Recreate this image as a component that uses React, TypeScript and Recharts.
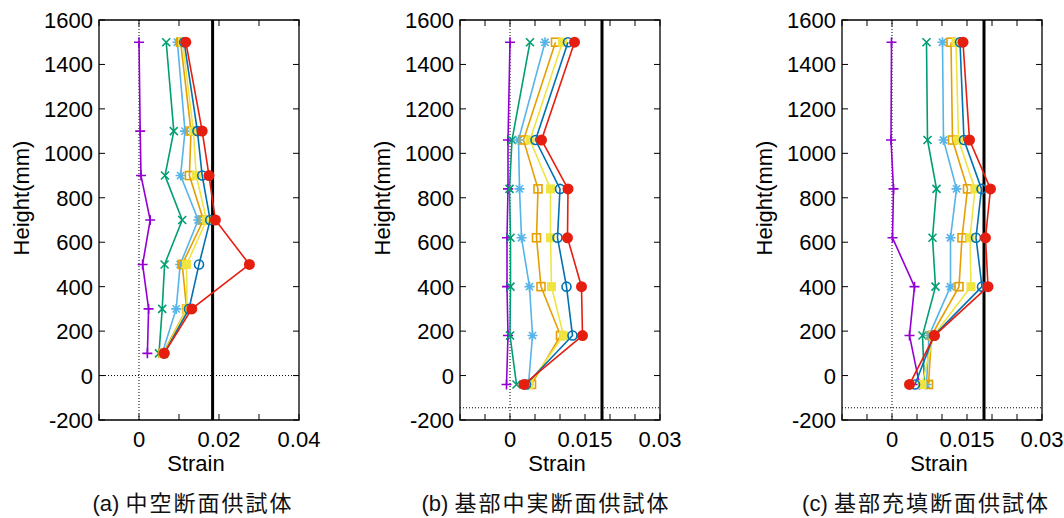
import React from 'react';
import { ScatterChart, Scatter, XAxis, YAxis, ReferenceLine, ReferenceArea, Label } from 'recharts';

// Heights (mm)
const heightsA = [1500, 1100, 900, 700, 500, 300, 100];
const heightsBC = [1500, 1060, 840, 620, 400, 180, -40];

// (a) 中空断面供試体 — strain per load step
const a1 = [0.0, 0.0003, 0.0005, 0.0028, 0.0009, 0.0024, 0.0021];
const a2 = [0.0068, 0.0087, 0.0065, 0.0108, 0.0064, 0.0058, 0.005];
const a3 = [0.0096, 0.0115, 0.0104, 0.0148, 0.0103, 0.0093, 0.0058];
const a4 = [0.0104, 0.013, 0.0126, 0.0161, 0.0108, 0.0119, 0.006];
const a5 = [0.0109, 0.0136, 0.0143, 0.0169, 0.0119, 0.012, 0.0062];
const a6 = [0.0113, 0.0146, 0.0158, 0.0178, 0.015, 0.0125, 0.0063];
const a7 = [0.0117, 0.0158, 0.0175, 0.0191, 0.0276, 0.0132, 0.0063];

// (b) 基部中実断面供試体
const b1 = [0.0, -0.0004, -0.0004, -0.0006, -0.0006, -0.0004, -0.0007];
const b2 = [0.004, 0.0004, -0.0001, 0.0001, 0.0001, 0.0, 0.0013];
const b3 = [0.007, 0.0017, 0.0019, 0.0023, 0.0039, 0.0045, 0.0037];
const b4 = [0.0091, 0.0027, 0.0056, 0.0053, 0.0062, 0.0101, 0.0043];
const b5 = [0.0105, 0.004, 0.0081, 0.0081, 0.0083, 0.0107, 0.0038];
const b6 = [0.0116, 0.0051, 0.01, 0.0095, 0.0113, 0.0125, 0.0032];
const b7 = [0.0129, 0.0063, 0.0116, 0.0115, 0.0143, 0.0145, 0.0028];

// (c) 基部充填断面供試体
const c1 = [-0.0001, -0.0002, 0.0003, 0.0001, 0.0045, 0.0035, 0.0055];
const c2 = [0.0069, 0.0071, 0.0089, 0.0081, 0.0087, 0.0061, 0.0065];
const c3 = [0.0101, 0.0103, 0.0129, 0.0117, 0.0117, 0.0074, 0.0069];
const c4 = [0.0118, 0.0121, 0.0151, 0.014, 0.0134, 0.0079, 0.0073];
const c5 = [0.0128, 0.0133, 0.0166, 0.0156, 0.0158, 0.0083, 0.006];
const c6 = [0.0136, 0.0144, 0.0179, 0.0168, 0.018, 0.0084, 0.0046];
const c7 = [0.0142, 0.0155, 0.0197, 0.0187, 0.0192, 0.0085, 0.0035];

const yTicks = [-200, 0, 200, 400, 600, 800, 1000, 1200, 1400, 1600];
const xTicksA = [-0.01, 0, 0.01, 0.02, 0.03, 0.04];
const xLabelsA = [0, 0.02, 0.04];
const xTicksBC = [-0.01, -0.005, 0, 0.005, 0.01, 0.015, 0.02, 0.025, 0.03];
const xLabelsBC = [0, 0.015, 0.03];
const yieldStrain = 0.0184;
const baseA = 0;
const baseBC = -145;
const captionTags = ['(a) ', '(b) ', '(c) '];
const captionTexts = ['中空断面供試体', '基部中実断面供試体', '基部充填断面供試体'];

const colors = ['#9400d3', '#009e73', '#56b4e9', '#e69f00', '#f0e442', '#0072b2', '#e51e10'];
const markers = ['plus', 'cross', 'star', 'square', 'fsquare', 'circle', 'fcircle'];

const FONT = "'Liberation Sans', Arial, sans-serif";
const FS = 22;
const PL = 99, PR = 299, PT = 20, PB = 420;
const W = 321, H = 518;

function Marker(props: any) {
  const { cx, cy, kind, color } = props;
  if (cx == null || cy == null) return null;
  const sw = 1.6;
  switch (kind) {
    case 'plus':
      return <path d={`M${cx - 5},${cy}H${cx + 5}M${cx},${cy - 5}V${cy + 5}`} stroke={color} strokeWidth={sw} fill="none" />;
    case 'cross':
      return <path d={`M${cx - 4},${cy - 4}L${cx + 4},${cy + 4}M${cx - 4},${cy + 4}L${cx + 4},${cy - 4}`} stroke={color} strokeWidth={sw} fill="none" />;
    case 'star':
      return <path d={`M${cx - 5},${cy}H${cx + 5}M${cx},${cy - 5}V${cy + 5}M${cx - 3.6},${cy - 3.6}L${cx + 3.6},${cy + 3.6}M${cx - 3.6},${cy + 3.6}L${cx + 3.6},${cy - 3.6}`} stroke={color} strokeWidth={sw} fill="none" />;
    case 'square':
      return <rect x={cx - 4} y={cy - 4} width={8} height={8} stroke={color} strokeWidth={sw} fill="none" />;
    case 'fsquare':
      return <rect x={cx - 4.5} y={cy - 4.5} width={9} height={9} fill={color} />;
    case 'circle':
      return <circle cx={cx} cy={cy} r={4.5} stroke={color} strokeWidth={sw} fill="none" />;
    default:
      return <circle cx={cx} cy={cy} r={5.5} fill={color} />;
  }
}

function XTick(props: any) {
  const { x, payload, labels } = props;
  const v = payload.value;
  const show = labels.some((l: number) => Math.abs(l - v) < 1e-9);
  return (
    <g>
      <line x1={x} x2={x} y1={PB} y2={PB - 6} stroke="#000" strokeWidth={1} />
      <line x1={x} x2={x} y1={PT} y2={PT + 6} stroke="#000" strokeWidth={1} />
      {show && (
        <text x={x} y={447} textAnchor="middle" fontFamily={FONT} fontSize={FS} fill="#000">
          {String(v)}
        </text>
      )}
    </g>
  );
}

function YTick(props: any) {
  const { y, payload } = props;
  return (
    <g>
      <line x1={PL} x2={PL + 6} y1={y} y2={y} stroke="#000" strokeWidth={1} />
      <line x1={PR} x2={PR - 6} y1={y} y2={y} stroke="#000" strokeWidth={1} />
      <text x={PL - 6} y={y + 8} textAnchor="end" fontFamily={FONT} fontSize={FS} fill="#000">
        {String(payload.value)}
      </text>
    </g>
  );
}

function StrainLabel(props: any) {
  const vb = props.viewBox || { x: PL, width: 200 };
  return (
    <text x={vb.x + vb.width / 2 - 3} y={471} textAnchor="middle" fontFamily={FONT} fontSize={FS} fill="#000">
      Strain
    </text>
  );
}

function HeightLabel() {
  return (
    <text x={29} y={198} transform="rotate(-90 29 198)" textAnchor="middle" fontFamily={FONT} fontSize={FS} fill="#000">
      Height(mm)
    </text>
  );
}

function Panel(props: any) {
  const { left, heights, series, xDomain, xTicks, xLabels, baseY, tag, text, capCenter } = props;
  return (
    <div style={{ position: 'absolute', left, top: 0, width: W, height: H }}>
      <ScatterChart width={W} height={H} margin={{ top: 20, right: 22, bottom: 68, left: 39 }}>
        <XAxis
          type="number"
          dataKey="s"
          domain={xDomain}
          allowDataOverflow
          ticks={xTicks}
          interval={0}
          tick={<XTick labels={xLabels} />}
          tickLine={false}
          axisLine={false}
          height={30}
        >
          <Label content={StrainLabel} />
        </XAxis>
        <YAxis
          type="number"
          dataKey="h"
          domain={[-200, 1600]}
          allowDataOverflow
          ticks={yTicks}
          interval={0}
          tick={<YTick />}
          tickLine={false}
          axisLine={false}
          width={60}
        >
          <Label content={HeightLabel} />
        </YAxis>
        <ReferenceLine x={0} stroke="#000" strokeWidth={1} strokeDasharray="1 2" />
        <ReferenceLine y={baseY} stroke="#000" strokeWidth={1} strokeDasharray="1 2" />
        <ReferenceLine x={yieldStrain} stroke="#000" strokeWidth={3} />
        {series.map((vals: number[], i: number) => (
          <Scatter
            key={i}
            data={heights.map((h: number, j: number) => ({ s: vals[j], h }))}
            fill={colors[i]}
            line={{ stroke: colors[i], strokeWidth: 1.6 }}
            lineType="joint"
            isAnimationActive={false}
            shape={(p: any) => <Marker cx={p.cx} cy={p.cy} kind={markers[i]} color={colors[i]} />}
          />
        ))}
        <ReferenceArea
          x1={xDomain[0]}
          x2={xDomain[1]}
          y1={-200}
          y2={1600}
          fill="none"
          fillOpacity={0}
          stroke="#000"
          strokeWidth={1.3}
          ifOverflow="visible"
        />
      </ScatterChart>
      <div
        style={{
          position: 'absolute',
          top: 489,
          left: capCenter - 160,
          width: 320,
          textAlign: 'center',
          fontFamily: "'Liberation Sans', 'Noto Sans CJK JP', sans-serif",
          fontSize: 22,
          color: '#111',
          whiteSpace: 'nowrap',
          lineHeight: '24px',
        }}
      >
        <span>{tag}</span>
        <span style={{ fontFamily: "'Noto Sans CJK JP', sans-serif", letterSpacing: 2 }}>{text}</span>
      </div>
    </div>
  );
}

export default function App() {
  return (
    <div style={{ position: 'absolute', left: 0, top: 0, width: 1064, height: 518, background: '#fff', overflow: 'hidden' }}>
      <Panel left={0} heights={heightsA} series={[a1, a2, a3, a4, a5, a6, a7]} xDomain={[-0.01, 0.04]} xTicks={xTicksA} xLabels={xLabelsA} baseY={baseA} tag={captionTags[0]} text={captionTexts[0]} capCenter={193} />
      <Panel left={361} heights={heightsBC} series={[b1, b2, b3, b4, b5, b6, b7]} xDomain={[-0.01, 0.03]} xTicks={xTicksBC} xLabels={xLabelsBC} baseY={baseBC} tag={captionTags[1]} text={captionTexts[1]} capCenter={185} />
      <Panel left={743} heights={heightsBC} series={[c1, c2, c3, c4, c5, c6, c7]} xDomain={[-0.01, 0.03]} xTicks={xTicksBC} xLabels={xLabelsBC} baseY={baseBC} tag={captionTags[2]} text={captionTexts[2]} capCenter={183} />
    </div>
  );
}
